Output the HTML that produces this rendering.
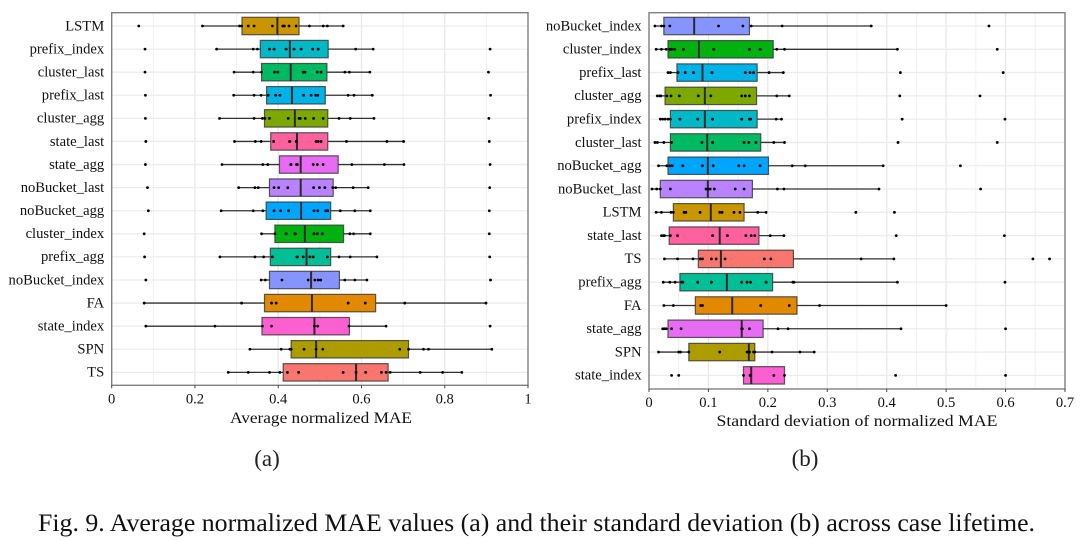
<!DOCTYPE html>
<html lang="en">
<head>
<meta charset="utf-8">
<title>Average normalized MAE and standard deviation</title>
<style>
html,body{margin:0;padding:0;background:#fff;width:1081px;height:540px;overflow:hidden}
svg{display:block}
text{font-family:"Liberation Serif",serif;fill:#111}
</style>
</head>
<body>
<svg id="figure" xmlns="http://www.w3.org/2000/svg" width="1081" height="540" viewBox="0 0 1081 540">
  <rect width="1081" height="540" fill="#fff"></rect>
  <g id="panel-a"></g>
  <g id="panel-b"></g>
  <text x="321" y="423" text-anchor="middle" font-size="16" textLength="182" lengthAdjust="spacingAndGlyphs">Average normalized MAE</text>
  <text x="857" y="426" text-anchor="middle" font-size="16" textLength="281" lengthAdjust="spacingAndGlyphs">Standard deviation of normalized MAE</text>
  <text x="267" y="466" text-anchor="middle" font-size="23" style="fill:#222">(a)</text>
  <text x="805" y="466" text-anchor="middle" font-size="23" style="fill:#222">(b)</text>
  <text x="38" y="531" font-size="25" textLength="997" lengthAdjust="spacingAndGlyphs" style="fill:#111">Fig. 9.  Average normalized MAE values (a) and their standard deviation (b) across case lifetime.</text>
</svg>
<script>
// ---------- Panel (a): average normalized MAE ----------
const aCategories = ["LSTM","prefix_index","cluster_last","prefix_last","cluster_agg","state_last","state_agg","noBucket_last","noBucket_agg","cluster_index","prefix_agg","noBucket_index","FA","state_index","SPN","TS"];
const aQ1 = [.313,.357,.36,.372,.367,.382,.403,.379,.371,.392,.381,.379,.367,.361,.431,.412];
const aMedian = [.398,.428,.43,.433,.44,.445,.454,.454,.455,.464,.468,.479,.481,.487,.491,.587];
const aQ3 = [.45,.52,.517,.513,.519,.519,.544,.532,.526,.557,.526,.547,.634,.571,.713,.664];
const aWhiskerLow = [.218,.252,.294,.293,.259,.295,.265,.305,.263,.36,.26,.359,.078,.082,.332,.28];
const aWhiskerHigh = [.556,.628,.62,.626,.63,.701,.702,.616,.621,.621,.637,.613,.899,.659,.913,.841];
const aPoints = [
  [.065,.218,.307,.312,.328,.342,.386,.411,.415,.426,.443,.475,.508,.518,.556],
  [.08,.252,.34,.35,.379,.39,.419,.438,.455,.483,.496,.586,.628,.909],
  [.08,.294,.34,.36,.391,.399,.46,.464,.494,.503,.56,.571,.62,.905],
  [.081,.293,.342,.359,.376,.394,.404,.461,.479,.49,.495,.568,.582,.626,.91],
  [.081,.259,.342,.362,.368,.379,.424,.45,.453,.465,.485,.508,.546,.573,.63,.906],
  [.082,.295,.345,.359,.389,.427,.428,.443,.444,.491,.496,.503,.564,.661,.701,.907],
  [.081,.265,.363,.375,.43,.446,.431,.444,.484,.494,.508,.577,.655,.702,.909],
  [.086,.305,.344,.352,.39,.401,.423,.485,.499,.512,.531,.538,.58,.616,.908],
  [.088,.263,.34,.363,.39,.406,.425,.486,.495,.514,.519,.549,.584,.621,.907],
  [.078,.36,.392,.419,.441,.44,.486,.494,.506,.572,.581,.621,.907],
  [.079,.26,.344,.365,.386,.445,.446,.46,.476,.484,.518,.546,.573,.637,.908],
  [.082,.359,.369,.409,.472,.488,.496,.502,.56,.584,.613,.91],
  [.078,.312,.384,.395,.568,.609,.704,.899],
  [.082,.248,.362,.384,.487,.495,.57,.659,.909],
  [.332,.407,.428,.431,.462,.491,.507,.692,.713,.749,.761,.913],
  [.28,.328,.379,.404,.422,.449,.556,.587,.61,.648,.659,.669,.741,.795,.841]
];
const aTickValues = [0,.2,.4,.6,.8,1];
const aTickLabels = ["0","0.2","0.4","0.6","0.8","1"];
const aMinorValues = [.1,.3,.5,.7,.9];

// ---------- Panel (b): standard deviation ----------
const bCategories = ["noBucket_index","cluster_index","prefix_last","cluster_agg","prefix_index","cluster_last","noBucket_agg","noBucket_last","LSTM","state_last","TS","prefix_agg","FA","state_agg","SPN","state_index"];
const bQ1 = [.025,.032,.047,.027,.036,.036,.032,.019,.041,.034,.083,.052,.078,.032,.067,.159];
const bMedian = [.076,.084,.09,.094,.094,.098,.099,.099,.104,.119,.121,.131,.14,.156,.168,.172];
const bQ3 = [.169,.209,.182,.181,.182,.188,.201,.174,.16,.185,.243,.208,.249,.192,.178,.228];
const bWhiskerLow = [.01,.012,.032,.014,.019,.01,.016,.005,.012,.021,.026,.024,.025,.023,.016,.159];
const bWhiskerHigh = [.374,.418,.226,.236,.223,.228,.394,.387,.197,.227,.412,.418,.5,.424,.278,.228];
const bPoints = [
  [.01,.021,.025,.035,.117,.158,.172,.224,.374,.572],
  [.012,.021,.029,.035,.038,.043,.058,.109,.169,.187,.215,.228,.418,.586],
  [.032,.036,.049,.061,.075,.106,.162,.17,.176,.202,.226,.423,.596],
  [.014,.018,.02,.03,.037,.051,.083,.104,.156,.162,.169,.215,.236,.422,.557],
  [.019,.023,.027,.032,.036,.052,.082,.107,.156,.169,.171,.214,.223,.426,.599],
  [.01,.014,.025,.038,.089,.107,.16,.168,.18,.21,.228,.419,.586],
  [.016,.03,.035,.039,.057,.09,.108,.151,.16,.187,.241,.263,.394,.524],
  [.005,.013,.019,.036,.096,.099,.103,.11,.145,.16,.216,.227,.387,.558],
  [.012,.021,.037,.041,.059,.062,.086,.119,.123,.143,.153,.183,.197,.348,.413],
  [.021,.024,.026,.036,.048,.107,.132,.163,.172,.178,.204,.227,.416,.598],
  [.026,.048,.074,.086,.09,.105,.113,.128,.194,.205,.357,.412,.646,.674],
  [.024,.035,.044,.055,.057,.082,.105,.156,.165,.171,.197,.242,.244,.418,.599],
  [.025,.041,.087,.09,.188,.236,.287,.5],
  [.023,.026,.029,.038,.054,.156,.157,.169,.217,.234,.424,.6],
  [.016,.05,.053,.067,.119,.165,.169,.176,.178,.207,.254,.278],
  [.038,.05,.159,.17,.21,.228,.415,.6]
];
const bTickValues = [0,.1,.2,.3,.4,.5,.6,.7];
const bTickLabels = ["0","0.1","0.2","0.3","0.4","0.5","0.6","0.7"];
const bMinorValues = [.05,.15,.25,.35,.45,.55,.65];

// ---------- Fill colour per method ----------
const methodColors = {
  LSTM:"#c99600", prefix_index:"#00b8c6", cluster_last:"#00ba62", prefix_last:"#00b3e6",
  cluster_agg:"#7ca800", state_last:"#ff619f", state_agg:"#e86bf3", noBucket_last:"#b983ff",
  noBucket_agg:"#00a5ff", cluster_index:"#00b10f", prefix_agg:"#00bf96", noBucket_index:"#8594ff",
  FA:"#e38900", state_index:"#fb5fd0", SPN:"#ad9c00", TS:"#f8766d"
};

const SVG_NS = "http://www.w3.org/2000/svg";
function make(parent, tag, attrs) {
  const el = document.createElementNS(SVG_NS, tag);
  for (const k in attrs) el.setAttribute(k, attrs[k]);
  parent.appendChild(el);
  return el;
}
function linearScale(d0, d1, r0, r1) {
  return v => r0 + (v - d0) / (d1 - d0) * (r1 - r0);
}

function drawPanel(root, s) {
  const x = linearScale(s.domain[0], s.domain[1], s.left, s.right);
  const y = i => s.firstRow + i * s.rowStep;

  const bg = make(root, "rect", {x:s.left, y:s.top, width:s.right-s.left, height:s.bottom-s.top, fill:"#fff"});
  
  

  s.minors.forEach(v => {
    const g = make(root, "line", {x1:x(v), x2:x(v), y1:s.top, y2:s.bottom, stroke:"#efefef", "stroke-width":0.9});
    
    
  });
  s.ticks.forEach(v => {
    const g = make(root, "line", {x1:x(v), x2:x(v), y1:s.top, y2:s.bottom, stroke:"#e8e8e8", "stroke-width":1.3});
    
    
  });
  s.categories.forEach((c, i) => {
    const g = make(root, "line", {x1:s.left, x2:s.right, y1:y(i), y2:y(i), stroke:"#ececec", "stroke-width":1.3});
    
    
  });

  s.categories.forEach((c, i) => {
    const row = make(root, "g", {});
    
    

    const whiskerL = make(row, "line", {x1:x(s.whiskerLow[i]), x2:x(s.q1[i]), y1:y(i), y2:y(i), stroke:"#333", "stroke-width":1.3});
    
    
    const whiskerH = make(row, "line", {x1:x(s.q3[i]), x2:x(s.whiskerHigh[i]), y1:y(i), y2:y(i), stroke:"#333", "stroke-width":1.3});
    
    

    const box = make(row, "rect", {x:x(s.q1[i]), y:y(i)-8.7, width:x(s.q3[i])-x(s.q1[i]), height:17.4, fill:methodColors[c], stroke:"#333", "stroke-opacity":0.8, "stroke-width":1.2});
    
    

    const med = make(row, "line", {x1:x(s.median[i]), x2:x(s.median[i]), y1:y(i)-8.7, y2:y(i)+8.7, stroke:"#2a2a2a", "stroke-width":2});
    
    

    s.points[i].forEach(v => {
      const p = make(row, "circle", {cx:x(v), cy:y(i), r:1.4, fill:"#000"});
      
      
    });

    const label = make(root, "text", {x:s.left-7.5, y:y(i)+4.3, "text-anchor":"end", "font-size":14.6});
    
    
    label.textContent = c;
  });

  const frame = make(root, "rect", {x:s.left, y:s.top, width:s.right-s.left, height:s.bottom-s.top, fill:"none", stroke:"#808080", "stroke-width":1.4});
  
  

  s.ticks.forEach((v, i) => {
    const t = make(root, "line", {x1:x(v), x2:x(v), y1:s.bottom, y2:s.bottom+3, stroke:"#444", "stroke-width":1});
    
    
    const lab = make(root, "text", {x:x(v), y:s.bottom+18, "text-anchor":"middle", "font-size":14.6});
    
    
    lab.textContent = s.tickLabels[i];
  });
}

drawPanel(document.getElementById("panel-a"), {
  left:111.7, right:528, top:12.7, bottom:385.3, firstRow:26, rowStep:23.09, domain:[0,1],
  categories:aCategories, q1:aQ1, median:aMedian, q3:aQ3, whiskerLow:aWhiskerLow, whiskerHigh:aWhiskerHigh,
  points:aPoints, ticks:aTickValues, tickLabels:aTickLabels, minors:aMinorValues
});
drawPanel(document.getElementById("panel-b"), {
  left:649, right:1065, top:12.7, bottom:389, firstRow:26, rowStep:23.29, domain:[0,.7],
  categories:bCategories, q1:bQ1, median:bMedian, q3:bQ3, whiskerLow:bWhiskerLow, whiskerHigh:bWhiskerHigh,
  points:bPoints, ticks:bTickValues, tickLabels:bTickLabels, minors:bMinorValues
});
</script>
</body>
</html>
